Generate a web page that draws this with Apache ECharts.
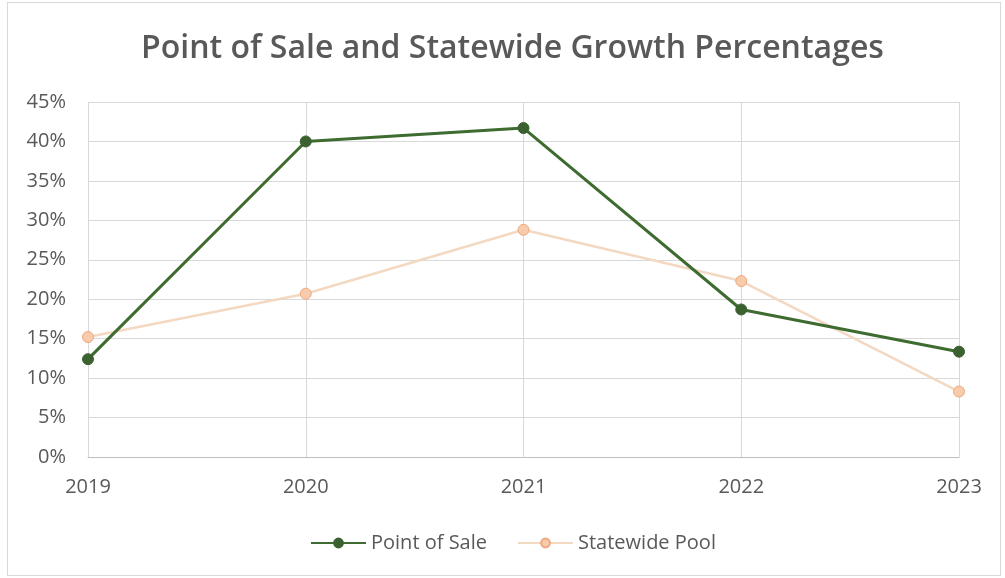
<!DOCTYPE html>
<html>
<head>
<meta charset="utf-8">
<script src="https://cdn.jsdelivr.net/npm/echarts@6/dist/echarts.min.js"></script>
<style>
html,body{margin:0;padding:0;background:#fff;}
#frame{position:absolute;left:7px;top:2px;width:994px;height:574px;border:1px solid #d9d9d9;box-sizing:border-box;}
#chart{position:absolute;left:0;top:0;width:1005px;height:578px;}
</style>
</head>
<body>
<div id="frame"></div>
<div id="chart"></div>
<script>
const categories = ['2019', '2020', '2021', '2022', '2023'];
const pointOfSale = [12.4, 40.0, 41.7, 18.7, 13.35];
const statewidePool = [15.2, 20.7, 28.8, 22.3, 8.3];
const yTicks = { min: 0, max: 45, interval: 5 };

const chart = echarts.init(document.getElementById('chart'));
const font = 'Open Sans, Noto Sans, sans-serif';
chart.setOption({
  animation: false,
  title: {
    text: 'Point of Sale and Statewide Growth Percentages',
    left: 136, top: 28,
    textStyle: { fontFamily: font, fontSize: 32, fontWeight: 600, color: '#595959' }
  },
  legend: {
    top: 528, left: 305,
    itemWidth: 55, itemHeight: 11, itemGap: 30,
    textStyle: { fontFamily: font, fontSize: 20, color: '#595959' },
    data: ['Point of Sale', 'Statewide Pool']
  },
  grid: { left: 88, right: 46, top: 102, bottom: 121 },
  xAxis: {
    type: 'category', data: categories, boundaryGap: false,
    axisLine: { lineStyle: { color: '#bfbfbf', width: 1 } },
    axisTick: { show: false },
    axisLabel: { fontFamily: font, fontSize: 20, color: '#595959', margin: 20 },
    splitLine: { show: true, lineStyle: { color: '#d9d9d9', width: 1 } }
  },
  yAxis: {
    type: 'value', min: yTicks.min, max: yTicks.max, interval: yTicks.interval,
    axisLine: { show: false }, axisTick: { show: false },
    axisLabel: { fontFamily: font, fontSize: 20, color: '#595959', margin: 22, formatter: '{value}%' },
    splitLine: { lineStyle: { color: '#d9d9d9', width: 1 } }
  },
  series: [
    {
      name: 'Point of Sale', type: 'line', data: pointOfSale,
      symbol: 'circle', symbolSize: 11,
      lineStyle: { color: '#3e6b30', width: 3 },
      itemStyle: { color: '#3b6131', borderColor: '#3b6131', borderWidth: 1 },
      z: 3
    },
    {
      name: 'Statewide Pool', type: 'line', data: statewidePool,
      symbol: 'circle', symbolSize: 11,
      lineStyle: { color: '#f3d8c2', width: 2.5 },
      itemStyle: { color: '#f8cbad', borderColor: '#eea77c', borderWidth: 1 },
      z: 2
    }
  ]
});
</script>
</body>
</html>
